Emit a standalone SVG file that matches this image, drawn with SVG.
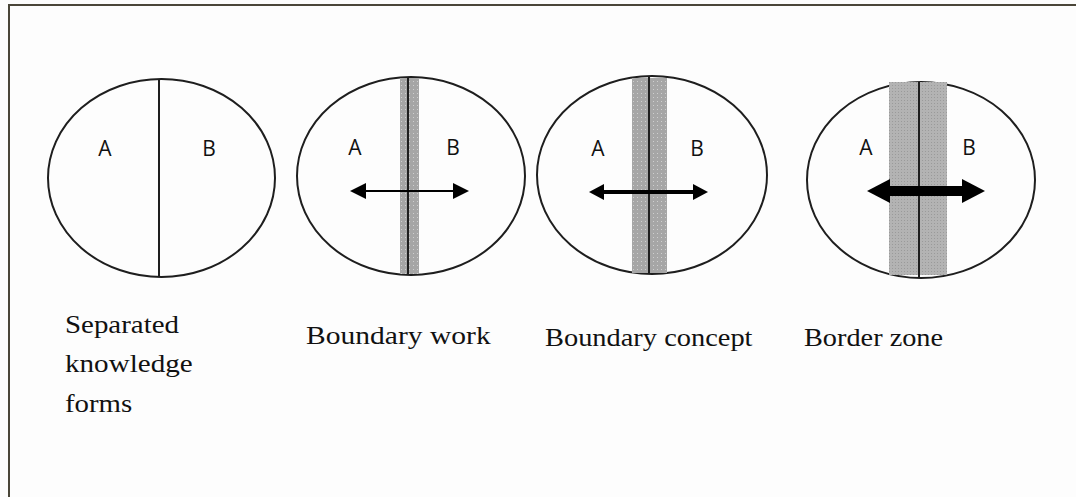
<svg xmlns="http://www.w3.org/2000/svg" width="1076" height="497" viewBox="0 0 1076 497">
<defs>
<style>
.ell{fill:none;stroke:#1e1e1e;stroke-width:2}
.div{stroke:#1e1e1e;stroke-width:2}
.lab{font-family:"Open Sans","Liberation Sans",sans-serif;font-size:21px;fill:#111;text-anchor:middle}
.cap{font-family:"Liberation Serif","Times New Roman",serif;font-size:26px;fill:#111}
.arr{fill:#000}
</style>
<pattern id="dots" width="4" height="4" patternUnits="userSpaceOnUse">
<rect width="4" height="4" fill="#a6a6a6"/>
<rect x="1" y="1" width="1" height="1" fill="#cfcfcf"/>
</pattern>
<pattern id="mesh" width="3" height="3" patternUnits="userSpaceOnUse">
<rect width="3" height="3" fill="#b3b3b3"/>
<rect x="1" y="1" width="1" height="1" fill="#9a9a9a"/>
</pattern>
</defs>
<rect width="1076" height="497" fill="#fdfdfd"/>
<path d="M9 497 V5 H1076" fill="none" stroke="#4a4639" stroke-width="2"/>

<g id="node-separated">
<ellipse class="ell" cx="161.5" cy="178" rx="113.5" ry="99"/>
<line class="div" x1="159" y1="79" x2="159" y2="277"/>
<text class="lab" x="105" y="156">A</text>
<text class="lab" x="209" y="156">B</text>
<text class="cap" transform="translate(65,333) scale(1.14,1)" textLength="100" lengthAdjust="spacingAndGlyphs">Separated</text>
<text class="cap" transform="translate(65,372) scale(1.14,1)" textLength="112" lengthAdjust="spacingAndGlyphs">knowledge</text>
<text class="cap" transform="translate(65,412) scale(1.14,1)" textLength="59" lengthAdjust="spacingAndGlyphs">forms</text>
</g>

<g id="node-boundary-work">
<ellipse class="ell" cx="411" cy="176" rx="114" ry="99"/>
<rect x="400" y="78" width="19" height="196" fill="url(#dots)"/>
<line class="div" x1="408" y1="77" x2="408" y2="275"/>
<text class="lab" x="355" y="155">A</text>
<text class="lab" x="453" y="155">B</text>
<text class="cap" transform="translate(306,344) scale(1.14,1)" textLength="162" lengthAdjust="spacingAndGlyphs">Boundary work</text>
</g>

<g id="node-boundary-concept">
<ellipse class="ell" cx="652" cy="175" rx="115" ry="99"/>
<rect x="632" y="78" width="35" height="195" fill="url(#dots)"/>
<line class="div" x1="649" y1="76" x2="649" y2="274"/>
<text class="lab" x="598" y="156">A</text>
<text class="lab" x="697" y="156">B</text>
<text class="cap" transform="translate(545,346) scale(1.14,1)" textLength="182" lengthAdjust="spacingAndGlyphs">Boundary concept</text>
</g>

<g id="node-border-zone">
<ellipse class="ell" cx="921" cy="180" rx="114" ry="98"/>
<rect x="889" y="82" width="58" height="193" fill="url(#mesh)"/>
<line class="div" x1="919" y1="82" x2="919" y2="278"/>
<text class="lab" x="866" y="155">A</text>
<text class="lab" x="969" y="155">B</text>
<text class="cap" transform="translate(804,346) scale(1.14,1)" textLength="122" lengthAdjust="spacingAndGlyphs">Border zone</text>
</g>

<g id="connectors">
<line x1="364" y1="191" x2="455" y2="191" stroke="#000" stroke-width="2"/>
<polygon class="arr" points="350,191 366,183 366,199"/>
<polygon class="arr" points="469,191 453,183 453,199"/>

<line x1="602" y1="192" x2="695" y2="192" stroke="#000" stroke-width="4"/>
<polygon class="arr" points="589,192 604,184 604,200"/>
<polygon class="arr" points="708,192 693,184 693,200"/>

<line x1="888" y1="191" x2="964" y2="191" stroke="#000" stroke-width="10"/>
<polygon class="arr" points="867,191 890,179 890,203"/>
<polygon class="arr" points="985,191 962,179 962,203"/>
</g>
</svg>
